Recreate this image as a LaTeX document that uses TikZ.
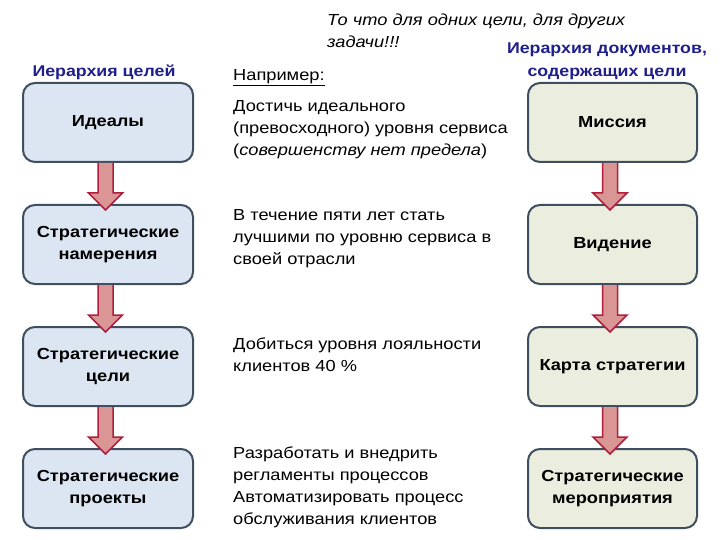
\documentclass[tikz,border=0pt]{standalone}
\usepackage{fontspec}
\setmainfont{Liberation Sans}[FakeStretch=1.14]
\usetikzlibrary{positioning,calc}

\definecolor{goalfill}{HTML}{DCE6F2}
\definecolor{docfill}{HTML}{EBEDDE}
\definecolor{boxline}{HTML}{3F4F60}
\definecolor{headblue}{HTML}{1F1F8C}
\definecolor{arrowfill}{HTML}{D99694}
\definecolor{arrowline}{HTML}{B01E3C}

% fat block arrow from the bottom of one box to the top of the next
\newcommand{\fatarrow}[2]{%
  \draw[fat] ([xshift=-10pt]#1.south) -- ([xshift=-10pt,yshift=11pt]#2.north)
    -- ([xshift=-19.5pt,yshift=11pt]#2.north) -- ([xshift=-2.5pt,yshift=-6pt]#2.north)
    -- ([xshift=14.5pt,yshift=11pt]#2.north) -- ([xshift=5pt,yshift=11pt]#2.north)
    -- ([xshift=5pt]#1.south);}

\begin{document}
\begin{tikzpicture}[x=1pt, y=-1pt,
  goalbox/.style={draw=boxline, line width=2pt, rounded corners=12pt, fill=goalfill,
    minimum width=170pt, minimum height=79pt, align=center,
    font=\fontsize{16}{22}\selectfont\bfseries},
  docbox/.style={goalbox, fill=docfill, minimum width=169pt},
  head/.style={font=\fontsize{15.6}{23}\selectfont\bfseries, text=headblue, align=center},
  note/.style={font=\fontsize{16}{22}\selectfont, align=left, anchor=north west, inner sep=0pt},
  fat/.style={draw=arrowline, fill=arrowfill, line width=1.5pt, line join=miter}
]
  \useasboundingbox (0,0) rectangle (720,540);

  % --- Headings ---
  \node[head] (lefthead) at (104,72) {Иерархия целей};
  \node[head] (righthead) at (607,61.5) {Иерархия документов,\\содержащих цели};

  % --- Goal hierarchy (left) ---
  \node[goalbox] (ideals) at (108,122.5) {Идеалы};
  \node[goalbox, below=41pt of ideals] (intent) {Стратегические\\намерения};
  \node[goalbox, below=41pt of intent] (goals) {Стратегические\\цели};
  \node[goalbox, below=41pt of goals] (projects) {Стратегические\\проекты};

  % --- Document hierarchy (right) ---
  \node[docbox] (mission) at (612.5,122.5) {Миссия};
  \node[docbox, below=41pt of mission] (vision) {Видение};
  \node[docbox, below=41pt of vision] (smap) {Карта стратегии};
  \node[docbox, below=41pt of smap] (actions) {Стратегические\\мероприятия};

  % --- Middle notes ---
  \node[note, font=\fontsize{16}{22}\selectfont\itshape] (remark) at (327,14)
    {То что для одних цели, для других\\задачи!!!};
  \node[note] (example) at (233,69) {\underline{Например:}};
  \node[note] (ex1) at (233,100)
    {Достичь идеального\\(превосходного) уровня сервиса\\(\textit{совершенству нет предела})};
  \node[note] (ex2) at (233,209)
    {В течение пяти лет стать\\лучшими по уровню сервиса в\\своей отрасли};
  \node[note] (ex3) at (233,338)
    {Добиться уровня лояльности\\клиентов 40 \%};
  \node[note] (ex4) at (233,447)
    {Разработать и внедрить\\регламенты процессов\\Автоматизировать процесс\\обслуживания клиентов};

  % --- Arrows ---
  \fatarrow{ideals}{intent}
  \fatarrow{intent}{goals}
  \fatarrow{goals}{projects}
  \fatarrow{mission}{vision}
  \fatarrow{vision}{smap}
  \fatarrow{smap}{actions}
\end{tikzpicture}
\end{document}
